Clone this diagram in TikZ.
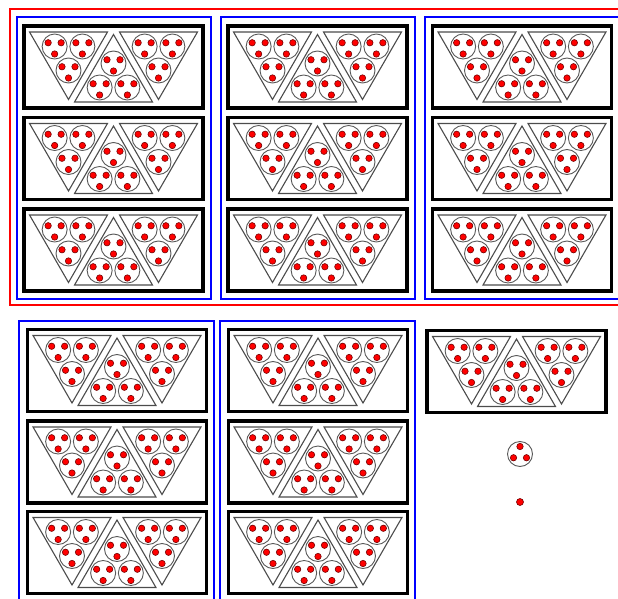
\documentclass[tikz,border=0pt]{standalone}
\usetikzlibrary{positioning}
\begin{document}
\begin{tikzpicture}[x=1pt,y=-1pt,
box/.style={draw,line width=3.5pt,minimum width=179pt,minimum height=82pt,inner sep=0pt},
grp/.style={draw=blue,line width=2pt},
all/.style={draw=red,line width=2pt},
ring/.style={draw=black!65,line width=0.9pt},
tri/.style={draw=black!70,line width=1.1pt},
dot/.style={fill=red,draw=black!55!red,line width=0.6pt},
cell/.pic={\draw[ring] (0,0) circle (12.5);
 \foreach \a in {270,30,150} \draw[dot] (\a:7.5) circle (3.2);},
wedge/.pic={\draw[tri] (270:45)--(30:45)--(150:45)--cycle;
 \foreach \a in {270,30,150} \pic[rotate=180] at (\a:16) {cell};},
trio/.pic={\pic[rotate=180] at (-45,-12.5) {wedge};
 \pic at (0,12.5) {wedge};
 \pic[rotate=180] at (45,-12.5) {wedge};}]
\useasboundingbox (0,0) rectangle (618,599);
\clip (0,0) rectangle (618,599);
\draw[all] (10,9.5) rectangle (628,305);
\foreach \c/\x in {1/113.5,2/317.5,3/522}{
 \draw[grp] (\x-97,17) rectangle (\x+97,299);
 \foreach \r/\y in {1/67,2/158.5,3/250}{
  \node[box] (t\c\r) at (\x,\y) {};
  \pic at (t\c\r) {trio};
 }
}
\foreach \c/\x in {1/116.5,2/317.5}{
 \draw[grp] (\x-97.5,321) rectangle (\x+97.5,604);
 \foreach \r/\y in {1/370.5,2/462,3/552.5}{
  \node[box] (b\c\r) at (\x+0.5,\y) {};
  \pic at (b\c\r) {trio};
 }
}
\node[box] (solo) at (516.5,371.5) {};
\pic at (solo) {trio};
\coordinate (one) at (520,454);
\pic at (one) {cell};
\coordinate (pt) at (520,502);
\draw[dot] (pt) circle (3.5);
\end{tikzpicture}
\end{document}
